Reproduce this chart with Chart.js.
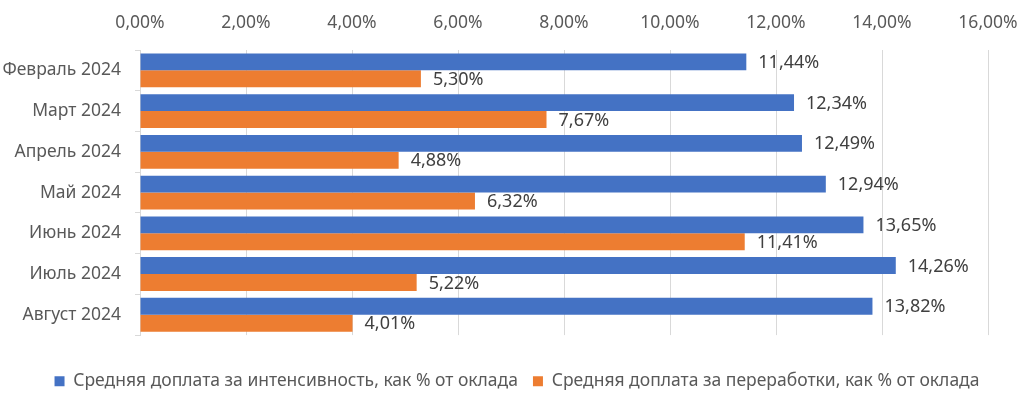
<!DOCTYPE html>
<html>
<head>
<meta charset="utf-8">
<script src="https://cdn.jsdelivr.net/npm/chart.js@4"></script>
<style>
  html, body { margin: 0; padding: 0; background: #fff; }
  #wrap { width: 1034px; height: 407px; }
</style>
</head>
<body>
<div id="wrap"><canvas id="myChart"></canvas></div>
<script>
var months = ["Февраль 2024", "Март 2024", "Апрель 2024", "Май 2024", "Июнь 2024", "Июль 2024", "Август 2024"];
var intensity = [11.44, 12.34, 12.49, 12.94, 13.65, 14.26, 13.82];
var overtime = [5.30, 7.67, 4.88, 6.32, 11.41, 5.22, 4.01];
var seriesNames = ["Средняя доплата за интенсивность, как % от оклада", "Средняя доплата за переработки, как % от оклада"];

function pct(v) {
  return v.toFixed(2).replace(".", ",") + "%";
}

// value labels at the end of each bar
var barLabels = {
  id: "barLabels",
  afterDatasetsDraw: function(chart) {
    var ctx = chart.ctx;
    ctx.save();
    ctx.font = "18px 'Noto Sans'";
    ctx.fillStyle = "#404040";
    ctx.textBaseline = "middle";
    ctx.textAlign = "left";
    chart.data.datasets.forEach(function(ds, i) {
      var meta = chart.getDatasetMeta(i);
      meta.data.forEach(function(bar, j) {
        ctx.fillText(pct(ds.data[j]), bar.x + 12, bar.y + 1);
      });
    });
    ctx.restore();
  }
};

var ctx = document.getElementById("myChart");
var myChart = new Chart(ctx, {
  type: "bar",
  data: {
    labels: months,
    datasets: [
      {
        label: seriesNames[0],
        data: intensity,
        backgroundColor: "#4472C4",
        categoryPercentage: 0.83,
        barPercentage: 1.0
      },
      {
        label: seriesNames[1],
        data: overtime,
        backgroundColor: "#ED7D31",
        categoryPercentage: 0.83,
        barPercentage: 1.0
      }
    ]
  },
  options: {
    indexAxis: "y",
    responsive: true,
    maintainAspectRatio: false,
    animation: false,
    layout: { padding: { left: 0, right: 0, top: -3, bottom: 7 } },
    plugins: {
      tooltip: { enabled: false },
      legend: {
        position: "bottom",
        title: { display: true, text: " ", font: { size: 2 }, padding: { top: 20, bottom: 0 } },
        labels: {
          boxWidth: 10,
          boxHeight: 10,
          padding: 15,
          color: "#595959",
          font: { family: "'Noto Sans'", size: 17.5 }
        }
      }
    },
    scales: {
      x: {
        position: "top",
        min: 0,
        max: 16,
        ticks: {
          stepSize: 2,
          color: "#595959",
          padding: 16,
          font: { family: "'Noto Sans'", size: 17.5 },
          callback: function(v) { return pct(v); }
        },
        grid: { color: "#d9d9d9", drawTicks: false },
        border: { display: false }
      },
      y: {
        ticks: {
          color: "#595959",
          padding: 14,
          font: { family: "'Noto Sans'", size: 17.5 }
        },
        grid: { drawOnChartArea: false, color: "#d9d9d9", tickLength: 5, offset: true },
        border: { color: "#d9d9d9" },
        afterFit: function(scale) { scale.width = 140; }
      },
      // empty spacer on the right so the legend stays centred on the canvas
      yRight: {
        type: "linear",
        position: "right",
        ticks: { display: false },
        grid: { display: false },
        border: { display: false },
        afterFit: function(scale) { scale.width = 46; }
      }
    }
  },
  plugins: [barLabels]
});
</script>
</body>
</html>
